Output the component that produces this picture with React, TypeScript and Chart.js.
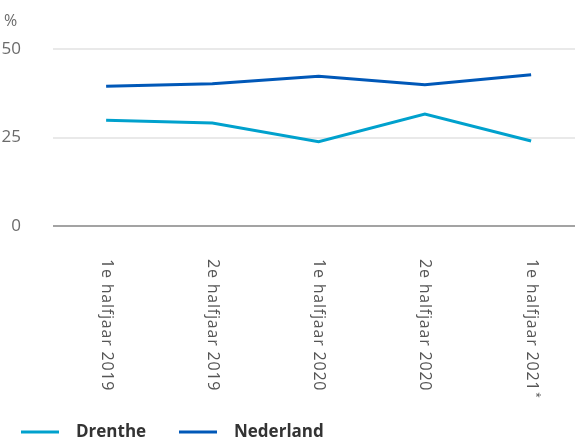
import React, { useEffect, useRef } from "react";
import { Chart, registerables } from "chart.js";

Chart.register(...registerables);

const categories = [
  "1e halfjaar 2019",
  "2e halfjaar 2019",
  "1e halfjaar 2020",
  "2e halfjaar 2020",
  "1e halfjaar 2021",
];
const categoryMarks = ["", "", "", "", "*"];
const drenthe = [29.9, 29.1, 23.8, 31.6, 24.0];
const nederland = [39.5, 40.2, 42.3, 39.9, 42.7];
const yTicks = [0, 25, 50];
const unitLabel = "%";
const seriesNames = ["Drenthe", "Nederland"];
const seriesColors = ["#00a1cd", "#0058b8"];

const FONT = "'Open Sans', 'Noto Sans', sans-serif";

export default function App() {
  const ref = useRef<HTMLCanvasElement | null>(null);

  useEffect(() => {
    const canvas = ref.current;
    if (!canvas) return;

    const overlay = {
      id: "overlay",
      beforeDatasetsDraw(chart: any) {
        const { ctx, chartArea } = chart;
        const ys = chart.scales.y;
        ctx.save();
        yTicks.forEach((v) => {
          const y = Math.round(ys.getPixelForValue(v));
          ctx.beginPath();
          ctx.strokeStyle = v === 0 ? "#a3a3a3" : "#e9e9e9";
          ctx.lineWidth = 2;
          ctx.moveTo(chartArea.left, y);
          ctx.lineTo(chart.width, y);
          ctx.stroke();
        });
        ctx.restore();
      },
      afterDraw(chart: any) {
        const { ctx } = chart;
        const xs = chart.scales.x;
        ctx.save();
        // unit label
        ctx.fillStyle = "#6b6b6b";
        ctx.font = `16px ${FONT}`;
        ctx.textAlign = "left";
        ctx.textBaseline = "middle";
        ctx.fillText(unitLabel, 4, 21);

        // x labels, rotated clockwise
        categories.forEach((lab, i) => {
          const x = xs.getPixelForValue(i);
          ctx.save();
          ctx.translate(x, 259);
          ctx.rotate(Math.PI / 2);
          ctx.font = `16px ${FONT}`;
          (ctx as any).letterSpacing = "0.8px";
          ctx.fillStyle = "#555555";
          ctx.textAlign = "left";
          ctx.textBaseline = "middle";
          ctx.fillText(lab, 0, 0);
          if (categoryMarks[i]) {
            const w = ctx.measureText(lab).width;
            ctx.font = `10px ${FONT}`;
            ctx.fillText(categoryMarks[i], w + 1, -5);
          }
          ctx.restore();
        });

        // legend
        const legendX = [21, 179];
        seriesNames.forEach((name, i) => {
          const lx = legendX[i];
          ctx.beginPath();
          ctx.strokeStyle = seriesColors[i];
          ctx.lineWidth = 3;
          ctx.moveTo(lx, 432);
          ctx.lineTo(lx + 38, 432);
          ctx.stroke();
          ctx.font = `bold 17px ${FONT}`;
          ctx.fillStyle = "#333333";
          ctx.textAlign = "left";
          ctx.textBaseline = "middle";
          ctx.fillText(name, lx + 55, 432);
        });
        ctx.restore();
      },
    };

    const chart = new Chart(canvas, {
      type: "line",
      data: {
        datasets: [
          {
            label: seriesNames[0],
            data: drenthe.map((v, i) => ({ x: i, y: v })),
            borderColor: seriesColors[0],
            backgroundColor: seriesColors[0],
            borderWidth: 3,
            pointRadius: 0,
            tension: 0,
          },
          {
            label: seriesNames[1],
            data: nederland.map((v, i) => ({ x: i, y: v })),
            borderColor: seriesColors[1],
            backgroundColor: seriesColors[1],
            borderWidth: 3,
            pointRadius: 0,
            tension: 0,
          },
        ],
      },
      options: {
        animation: false,
        responsive: false,
        devicePixelRatio: 1,
        layout: { padding: { top: 49, bottom: 213, left: 0, right: 0 } },
        plugins: {
          legend: { display: false },
          tooltip: { enabled: false },
        },
        scales: {
          x: {
            type: "linear",
            display: false,
            min: -0.5,
            max: 4.413,
          },
          y: {
            min: 0,
            max: 50,
            afterFit: (s: any) => {
              s.width = 53;
            },
            afterBuildTicks: (s: any) => {
              s.ticks = yTicks.map((v) => ({ value: v }));
            },
            grid: { display: false },
            border: { display: false },
            ticks: {
              padding: 24,
              color: "#6b6b6b",
              font: { size: 17, family: FONT },
            },
          },
        },
      },
      plugins: [overlay],
    });
    return () => chart.destroy();
  }, []);

  return (
    <div style={{ position: "absolute", left: 0, top: 0, width: 575, height: 439 }}>
      <canvas ref={ref} width={575} height={439} />
    </div>
  );
}
